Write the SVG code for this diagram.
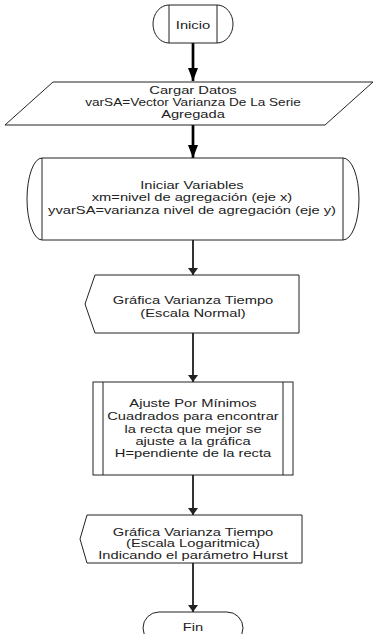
<svg xmlns="http://www.w3.org/2000/svg" width="375" height="634" viewBox="0 0 375 634">
<defs>
<style>
.shape{fill:#fff;stroke:#222;stroke-width:1}
.ln{fill:none;stroke:#222;stroke-width:1}
.t{font-family:"Liberation Sans",Arial,sans-serif;font-size:10.5px;fill:#222;text-anchor:middle}
.c1{fill:none;stroke:#000;stroke-width:2.7}
.c2{fill:none;stroke:#333;stroke-width:2}
</style>
<marker id="ah1" viewBox="0 0 13 10" refX="13" refY="5" markerUnits="userSpaceOnUse" markerWidth="13" markerHeight="10" orient="auto"><path d="M0,0 L13,5 L0,10 Z" fill="#000"/></marker>
<marker id="ah2" viewBox="0 0 7 10" refX="7" refY="5" markerUnits="userSpaceOnUse" markerWidth="7" markerHeight="10" orient="auto"><path d="M0,0 L7,5 L0,10 Z" fill="#222"/></marker>
</defs>
<rect width="375" height="634" fill="#fff"/>
<g id="connectors">
<line class="c1" x1="193" y1="43" x2="193" y2="81" marker-end="url(#ah1)"/>
<line class="c1" x1="193" y1="125" x2="193" y2="158" marker-end="url(#ah1)"/>
<line class="c2" x1="193" y1="240" x2="193" y2="275" marker-end="url(#ah2)"/>
<line class="c2" x1="193" y1="333" x2="193" y2="382" marker-end="url(#ah2)"/>
<line class="c2" x1="193" y1="475" x2="193" y2="515" marker-end="url(#ah2)"/>
<line class="c2" x1="193" y1="563" x2="193" y2="612" marker-end="url(#ah2)"/>
</g>
<g id="inicio">
<path class="shape" d="M169,5 H217 A16,19 0 0 1 217,43 H169 A16,19 0 0 1 169,5 Z"/>
<line class="ln" x1="169" y1="5" x2="169" y2="43"/>
<line class="ln" x1="217" y1="5" x2="217" y2="43"/>
<g transform="translate(193,0) scale(1.4,1)"><text class="t" x="0" y="28.7">Inicio</text></g>
</g>
<g id="cargar">
<polygon class="shape" points="53,82 373,82 325,125 5,125"/>
<g transform="translate(193,0) scale(1.4,1)">
<text class="t" x="0" y="93.7">Cargar Datos</text>
<text class="t" x="0" y="106.2" textLength="154" lengthAdjust="spacingAndGlyphs">varSA=Vector Varianza De La Serie</text>
<text class="t" x="0" y="118">Agregada</text>
</g>
</g>
<g id="iniciar">
<path class="shape" d="M42,158 H343 A16,41 0 0 1 343,240 H42 A15,41 0 0 1 42,158 Z"/>
<line class="ln" x1="42" y1="158" x2="42" y2="240"/>
<line class="ln" x1="343" y1="158" x2="343" y2="240"/>
<g transform="translate(192,0) scale(1.4,1)">
<text class="t" x="0" y="188.7">Iniciar Variables</text>
<text class="t" x="0" y="201.4">xm=nivel de agregación (eje x)</text>
<text class="t" x="0" y="213.7">yvarSA=varianza nivel de agregación (eje y)</text>
</g>
</g>
<g id="grafica1">
<polygon class="shape" points="95,275 299,275 299,333 95,333 85,304"/>
<g transform="translate(193,0) scale(1.4,1)">
<text class="t" x="0" y="303.7">Gráfica Varianza Tiempo</text>
<text class="t" x="0" y="316.7">(Escala Normal)</text>
</g>
</g>
<g id="ajuste">
<rect class="shape" x="93" y="382" width="200" height="93"/>
<line class="ln" x1="103" y1="382" x2="103" y2="475"/>
<line class="ln" x1="283" y1="382" x2="283" y2="475"/>
<g transform="translate(193,0) scale(1.4,1)">
<text class="t" x="0" y="407">Ajuste Por Mínimos</text>
<text class="t" x="0" y="420.4">Cuadrados para encontrar</text>
<text class="t" x="0" y="433">la recta que mejor se</text>
<text class="t" x="0" y="444.7">ajuste a la gráfica</text>
<text class="t" x="0" y="457">H=pendiente de la recta</text>
</g>
</g>
<g id="grafica2">
<polygon class="shape" points="87,515 302,515 302,563 87,563 80,539"/>
<g transform="translate(193,0) scale(1.4,1)">
<text class="t" x="0" y="535.7">Gráfica Varianza Tiempo</text>
<text class="t" x="0" y="547.2">(Escala Logaritmica)</text>
<text class="t" x="0" y="558.7">Indicando el parámetro Hurst</text>
</g>
</g>
<g id="fin">
<rect class="shape" x="143" y="612" width="100" height="32" rx="16" ry="16"/>
<g transform="translate(193,0) scale(1.4,1)"><text class="t" x="0" y="630.7">Fin</text></g>
</g>
</svg>
